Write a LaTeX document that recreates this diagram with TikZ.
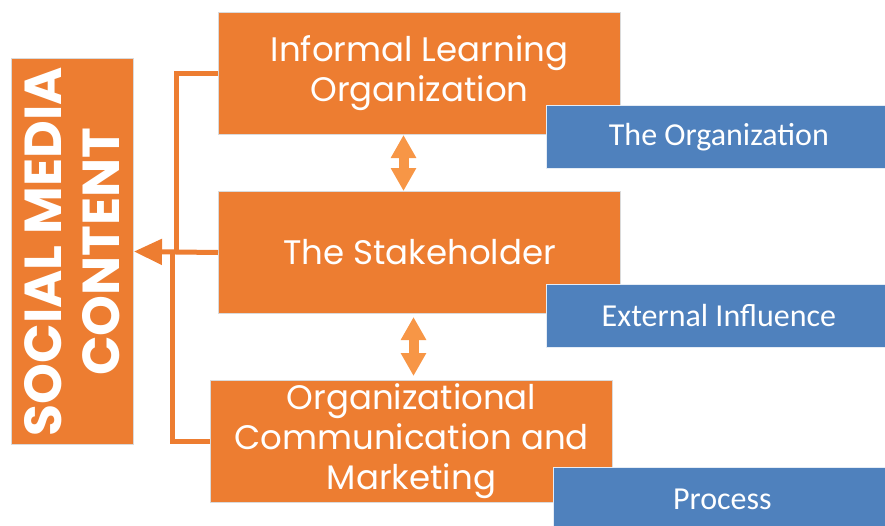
\documentclass[tikz,border=0pt]{standalone}
\usepackage{fontspec}
\setmainfont{Poppins}
\newfontfamily\calib{Carlito}
\usetikzlibrary{arrows.meta}
\definecolor{boxorange}{RGB}{237,125,49}
\definecolor{arrorange}{RGB}{247,150,70}
\definecolor{boxblue}{RGB}{79,129,189}
\definecolor{edgegray}{RGB}{218,218,218}

\begin{document}
\begin{tikzpicture}[x=1pt,y=-1pt,>=Stealth,
    obox/.style={draw=edgegray,fill=boxorange,line width=1pt,anchor=north west,
        text=white,align=center,inner sep=0pt,font=\fontsize{34}{40}\selectfont},
    bbox/.style={draw=white!85!boxblue,fill=boxblue,line width=0.8pt,anchor=north west,
        text=white,inner sep=0pt,font=\calib\fontsize{32}{36}\selectfont},
    link/.style={boxorange,line width=5pt},
    dbl/.style={arrorange,line width=10pt,
        {Triangle[length=23pt,width=24pt]}-{Triangle[length=23pt,width=24pt]}}]
    \useasboundingbox (0,0) rectangle (885,525);

    % Social media column
    \node[obox,minimum width=122pt,minimum height=386pt] (smc) at (11,58) {};
    \node[rotate=90,text=white,align=center,inner sep=0pt,
        font=\bfseries\fontsize{52}{58}\selectfont] (smctext) at (smc.center) {SOCIAL MEDIA\\CONTENT};

    % Orange boxes
    \node[obox,minimum width=402pt,minimum height=122pt] (ilo) at (218,12) {Informal Learning\\Organization};
    \node[obox,minimum width=402pt,minimum height=122pt] (sth) at (218,191) {The Stakeholder};
    \node[obox,minimum width=402pt,minimum height=122pt] (mkt) at (210,380) {Organizational\\Communication and\\Marketing};

    % Blue labels
    \node[bbox,minimum width=345pt,minimum height=63pt] (org) at (546,105) {The Organization};
    \node[bbox,minimum width=345pt,minimum height=63pt] (ext) at (546,284) {External Influence};
    \node[bbox,minimum width=338pt,minimum height=63pt] (proc) at (553,467) {Process};

    % Double arrows
    \draw[dbl] ([xshift=-16pt]ilo.south) -- ([xshift=-16pt]ilo.south |- sth.north);
    \draw[dbl,shorten <=3pt,shorten >=4pt] ([xshift=-6pt]sth.south) -- ([xshift=-6pt]sth.south |- mkt.north);

    % Feed lines into the column
    \coordinate (joinA) at (176,252);
    \coordinate (joinB) at (172,252);
    \draw[link] (ilo.west) -| (joinA);
    \draw[link] (mkt.west) -| (joinB);
    \draw[link,-{Triangle[length=28pt,width=25pt]}] (sth.west) -- (smc.east);
\end{tikzpicture}
\end{document}
